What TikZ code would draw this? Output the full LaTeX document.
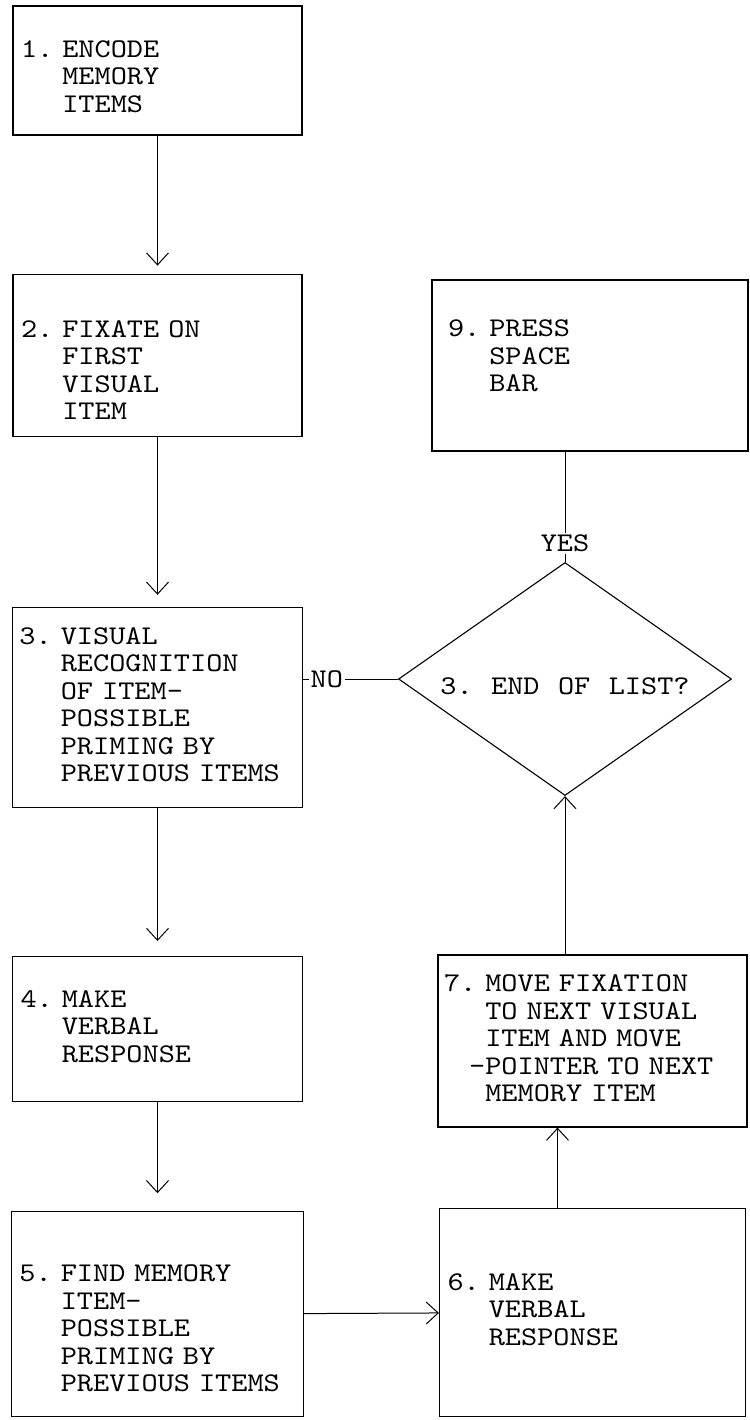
\documentclass[tikz,border=0pt]{standalone}
\usepackage{fontspec}
\setmonofont{lmmono10-regular.otf}[FakeStretch=1.14,WordSpace=1.14]
\usepackage{tikz}
\usetikzlibrary{arrows.meta,positioning,shapes.geometric}
\newcommand{\boxtxt}[2][0pt]{\raisebox{-#1}[\height][\depth]{%
  \begin{tabular}{@{}l@{\ }l@{}}#2\end{tabular}}}
\tikzset{
  box/.style   ={draw,line width=1.2pt,inner xsep=8pt,inner ysep=0pt,align=left},
  decide/.style={draw,diamond,shape aspect=1.43,line width=1.1pt,inner sep=0pt,
                 minimum width=333pt,minimum height=233pt},
  flow/.style  ={-{Straight Barb[length=12pt,width=22pt]},line width=1pt},
  link/.style  ={line width=1pt},
  lab/.style   ={fill=white,inner sep=2pt}
}

\begin{document}
\begin{tikzpicture}[x=1pt,y=-1pt,every node/.style={font=\ttfamily\fontsize{27}{27.5}\selectfont}]
    \useasboundingbox (0,0) rectangle (749,1420);
    % left column
    \node[box,text width=273pt,minimum height=129pt] (enc) at (157.5,70.5)
      {\boxtxt[9pt]{1.&ENCODE\\&MEMORY\\&ITEMS}};
    \node[box,text width=273pt,minimum height=162pt,below=138pt of enc] (fix)
      {\boxtxt[18pt]{2.&FIXATE ON\\&FIRST\\&VISUAL\\&ITEM}};
    \node[box,inner xsep=7pt,text width=276pt,minimum height=200pt,below=170pt of fix] (vis)
      {\boxtxt{3.&VISUAL\\&RECOGNITION\\&OF ITEM-\\&POSSIBLE\\&PRIMING BY\\&PREVIOUS ITEMS}};
    \node[box,text width=274pt,minimum height=145pt,below=148pt of vis] (make)
      {\boxtxt{4.&MAKE\\&VERBAL\\&RESPONSE}};
    \node[box,text width=276pt,minimum height=205pt,below=109pt of make] (find)
      {\boxtxt[17pt]{5.&FIND MEMORY\\&ITEM-\\&POSSIBLE\\&PRIMING BY\\&PREVIOUS ITEMS}};
    % right column
    \node[box,inner xsep=16pt,text width=284pt,minimum height=171pt] (pres) at (590,365.5)
      {\boxtxt[-7pt]{9.&PRESS\\&SPACE\\&BAR}};
    \node[decide] (dia) at (565,679) {\boxtxt[10pt]{3.&END OF LIST?}};
    \node[box,inner xsep=6pt,text width=297pt,minimum height=172pt] (next) at (592.5,1041)
      {\boxtxt{7.&MOVE FIXATION\\&TO NEXT VISUAL\\&ITEM AND MOVE\\&\llap{-}POINTER TO NEXT\\&MEMORY ITEM}};
    \node[box,text width=290pt,minimum height=208pt,below=80pt of next] (say)
      {\boxtxt{6.&MAKE\\&VERBAL\\&RESPONSE}};
    % connectors
    \draw[flow,shorten >=8pt] (enc) -- (fix);
    \draw[flow,shorten >=12pt] (fix) -- (vis);
    \draw[flow,shorten >=15pt] (vis) -- (make);
    \draw[flow,shorten >=18pt] (make) -- (find);
    \draw[flow] (find) -- (say);
    \draw[flow] ([xshift=-35pt]say.north) -- ([xshift=-35pt]say.north |- next.south);
    \draw[flow] (dia.south |- next.north) -- (dia.south);
    % decision branches
    \draw[link] (vis.east |- dia.west) -- node[lab,pos=.25]{NO} (dia.west);
    \draw[link] (dia.north) -- node[lab,pos=.17]{YES} (dia.north |- pres.south);
\end{tikzpicture}
\end{document}
